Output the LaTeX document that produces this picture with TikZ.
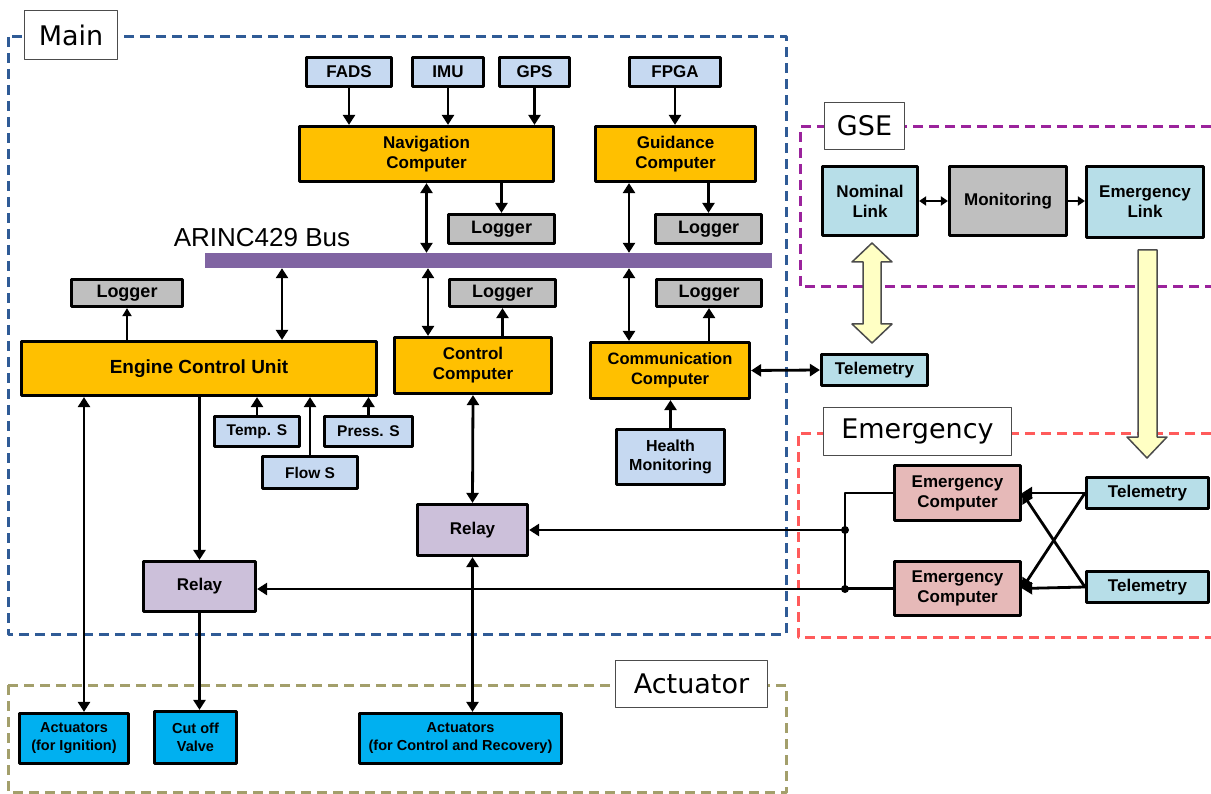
\documentclass[tikz,border=0pt]{standalone}
\usepackage{fontspec}
\setmainfont{Liberation Sans}
\newfontfamily\tagfont{DejaVu Sans}
\usetikzlibrary{arrows.meta}

\definecolor{unitorange}{HTML}{FFC000}
\definecolor{sensblue}{HTML}{C6D9F1}
\definecolor{loggray}{HTML}{BFBFBF}
\definecolor{relaylilac}{HTML}{CCC0DA}
\definecolor{linkcyan}{HTML}{B7DEE8}
\definecolor{empink}{HTML}{E6B9B8}
\definecolor{actblue}{HTML}{00B0F0}
\definecolor{buspurple}{HTML}{8064A2}
\definecolor{fatyellow}{HTML}{FFFFC4}
\definecolor{mainblue}{HTML}{2F5B96}
\definecolor{gsepurple}{HTML}{9B239C}
\definecolor{emred}{HTML}{FF5B5B}
\definecolor{actolive}{HTML}{A39F6B}

\tikzset{
    blk/.style={draw=black, line width=3.2pt, inner sep=0pt, align=center, font=\fontsize{17}{20}\selectfont\bfseries},
    comp/.style={blk, fill=unitorange},
    sens/.style={blk, fill=sensblue},
    logbox/.style={blk, fill=loggray, font=\fontsize{18}{21}\selectfont\bfseries},
    relaybox/.style={blk, fill=relaylilac},
    linkbox/.style={blk, fill=linkcyan},
    embox/.style={blk, fill=empink},
    actbox/.style={blk, fill=actblue, font=\fontsize{14.5}{18}\selectfont\bfseries},
    tag/.style={draw=gray!60!black, line width=1.5pt, fill=white, inner sep=0pt, font=\tagfont\fontsize{27}{30}\selectfont},
    area/.style={line width=3pt, line cap=butt, dash pattern=on 10pt off 6pt},
    con/.style={line width=2.8pt, -{Triangle[length=10pt,width=12pt]}},
    dcon/.style={line width=2.8pt, {Triangle[length=10pt,width=12pt]}-{Triangle[length=10pt,width=12pt]}},
    wire/.style={line width=2.8pt},
    bigarrow/.style={draw=gray!60!black, line width=1.5pt, fill=fatyellow}
}

\begin{document}
\begin{tikzpicture}[line cap=round,line join=round,x=1pt,y=-1pt]
    \useasboundingbox (0,0) rectangle (1211,794);

    % dashed areas
    \draw[area, mainblue] (8,37) rectangle (786,634);
    \draw[area, gsepurple] (1211,127) -- (800,127) -- (800,287) -- (1211,287);
    \draw[area, emred] (1211,433) -- (798,433) -- (798,637) -- (1211,637);
    \draw[area, actolive] (8,685) rectangle (786,792);

    \draw (71,35) node[tag, minimum width=93, minimum height=49] (tagmain) {Main};
    \draw (864.5,126) node[tag, minimum width=80, minimum height=47] (taggse) {GSE};
    \draw (917.5,431.5) node[tag, minimum width=188, minimum height=48] (tagem) {Emergency};
    \draw (691.5,684) node[tag, minimum width=152, minimum height=47] (tagact) {Actuator};

    % sensors and computers on top
    \draw (349,72) node[sens, minimum width=85, minimum height=29] (fads) {FADS};
    \draw (448,72) node[sens, minimum width=71, minimum height=29] (imu) {IMU};
    \draw (534.5,72) node[sens, minimum width=70, minimum height=29] (gps) {GPS};
    \draw (675,72) node[sens, minimum width=91, minimum height=29] (fpga) {FPGA};
    \draw (426.5,154) node[comp, minimum width=254, minimum height=55] (nav) {Navigation\\Computer};
    \draw (675.5,154) node[comp, minimum width=160, minimum height=55] (guid) {Guidance\\Computer};
    \draw (501.5,229) node[logbox, minimum width=106, minimum height=29] (lognav) {Logger};
    \draw (708.5,229) node[logbox, minimum width=106, minimum height=29] (logguid) {Logger};

    % bus
    \draw (488.5,260.5) node[fill=buspurple, inner sep=0pt, minimum width=567, minimum height=15] (bus) {};
    \draw (262,238) node[font=\fontsize{26}{30}\selectfont] (busname) {ARINC429 Bus};

    \draw (127,293) node[logbox, minimum width=111, minimum height=27] (logecu) {Logger};
    \draw (502.5,293) node[logbox, minimum width=106, minimum height=27] (logctrl) {Logger};
    \draw (709,293) node[logbox, minimum width=105, minimum height=27] (logcomm) {Logger};
    \draw (199,368.5) node[comp, minimum width=355, minimum height=54, font=\fontsize{19}{22}\selectfont\bfseries] (ecu) {Engine Control Unit};
    \draw (473,365.5) node[comp, minimum width=157, minimum height=56] (ctrl) {Control\\Computer};
    \draw (670,370.5) node[comp, minimum width=159, minimum height=56, font=\fontsize{16.5}{20}\selectfont\bfseries] (comm) {Communication\\Computer};

    \draw (257,431.5) node[sens, minimum width=85, minimum height=30, font=\fontsize{15.5}{18}\selectfont\bfseries] (temp) {Temp. S};
    \draw (310,472.5) node[sens, minimum width=95, minimum height=32, font=\fontsize{15.5}{18}\selectfont\bfseries] (flow) {Flow S};
    \draw (368.5,431.5) node[sens, minimum width=88, minimum height=30, font=\fontsize{15.5}{18}\selectfont\bfseries] (press) {Press. S};
    \draw (670.5,457) node[sens, minimum width=108, minimum height=55, font=\fontsize{16}{19}\selectfont\bfseries] (health) {Health\\Monitoring};
    \draw (874.5,370) node[linkbox, minimum width=106, minimum height=31] (telmain) {Telemetry};

    \draw (199.5,586.5) node[relaybox, minimum width=112, minimum height=50] (relayecu) {Relay};
    \draw (472.5,530) node[relaybox, minimum width=110, minimum height=51] (relayctrl) {Relay};

    \draw (74,738.5) node[actbox, minimum width=109, minimum height=50] (actign) {Actuators\\(for Ignition)};
    \draw (195.5,737.5) node[actbox, minimum width=82, minimum height=52] (cutoff) {Cut off\\Valve};
    \draw (460.5,738.5) node[actbox, minimum width=202, minimum height=50] (actrec) {Actuators\\(for Control and Recovery)};

    % GSE
    \draw (870,201) node[linkbox, minimum width=95, minimum height=69] (nominal) {Nominal\\Link};
    \draw (1008,201) node[blk, fill=loggray, minimum width=117, minimum height=69] (monitor) {Monitoring};
    \draw (1145,202) node[linkbox, minimum width=117, minimum height=71] (emlink) {Emergency\\Link};

    % Emergency
    \draw (957.5,493) node[embox, minimum width=126, minimum height=55] (emcomp1) {Emergency\\Computer};
    \draw (957.5,588.5) node[embox, minimum width=126, minimum height=54] (emcomp2) {Emergency\\Computer};
    \draw (1147.5,493) node[linkbox, minimum width=122, minimum height=31] (tel1) {Telemetry};
    \draw (1147.5,587) node[linkbox, minimum width=122, minimum height=31] (tel2) {Telemetry};
    \coordinate (jtop) at (845,530);
    \coordinate (jbot) at (845,589);

    % connectors
    \draw[con] (fads.south) -- (fads.south |- nav.north);
    \draw[con] (imu.south) -- (imu.south |- nav.north);
    \draw[con] (gps.south) -- (gps.south |- nav.north);
    \draw[con] (fpga.south) -- (fpga.south |- guid.north);
    \draw[con] (lognav.north |- nav.south) -- (lognav.north);
    \draw[con] (logguid.north |- guid.south) -- (logguid.north);
    \draw[dcon] (nav.south) -- (nav.south |- bus.north);
    \draw[dcon] (guid.south -| 629,0) -- (bus.north -| 629,0);
    \draw[dcon] (bus.south -| 282,0) -- (ecu.north -| 282,0);
    \draw[dcon] (bus.south -| 428,0) -- (ctrl.north -| 428,0);
    \draw[dcon] (bus.south -| 629,0) -- (comm.north -| 629,0);
    \draw[line width=1.8pt, -{Triangle[length=8pt,width=9pt]}] (logecu.south |- ecu.north) -- (logecu.south);
    \draw[con] (logctrl.south |- ctrl.north) -- (logctrl.south);
    \draw[con] (logcomm.south |- comm.north) -- (logcomm.south);
    \draw[con] (temp.north) -- (temp.north |- ecu.south);
    \draw[con] (flow.north) -- (flow.north |- ecu.south);
    \draw[con] (press.north) -- (press.north |- ecu.south);
    \draw[con] (health.north) -- (health.north |- comm.south);
    \draw[dcon] (comm.east) -- (telmain.west);
    \draw[con] (relayecu.north |- ecu.south) -- (relayecu.north);
    \draw[dcon] (ctrl.south) -- (relayctrl.north);
    \draw[dcon] (relayctrl.south) -- (relayctrl.south |- actrec.north);
    \draw[dcon] (ecu.south -| 84,0) -- (actign.north -| 84,0);
    \draw[con] (relayecu.south) -- (relayecu.south |- cutoff.north);

    \draw[line width=2.8pt, {Triangle[length=7pt,width=9pt]}-{Triangle[length=7pt,width=9pt]}] (nominal.east) -- (monitor.west);
    \draw[line width=2.8pt, -{Triangle[length=7pt,width=9pt]}] (monitor.east) -- (monitor.east -| emlink.west);

    \draw[con] (tel1.west) -- (emcomp1.east);
    \draw[con] (tel2.west) -- (emcomp2.east);
    \draw[con] (tel1.west) -- (emcomp2.east);
    \draw[con] (tel2.west) -- (emcomp1.east);
    \draw[wire] (emcomp1.west) -| (jbot);
    \draw[wire] (emcomp2.west) -- (emcomp2.west -| jbot);
    \fill (jtop) circle (4);
    \fill (jbot) circle (4);
    \draw[con] (jtop) -- (relayctrl.east);
    \draw[con] (jbot) -- (jbot -| relayecu.east);

    % fat arrows
    \draw[bigarrow] (872,243) -- (892,262) -- (881,262) -- (881,324) -- (892,324) -- (872,343)
        -- (852,324) -- (863,324) -- (863,262) -- (852,262) -- cycle;
    \draw[bigarrow] (1138,250) -- (1157,250) -- (1157,437) -- (1167,437) -- (1147,458)
        -- (1127,437) -- (1138,437) -- cycle;
\end{tikzpicture}
\end{document}
